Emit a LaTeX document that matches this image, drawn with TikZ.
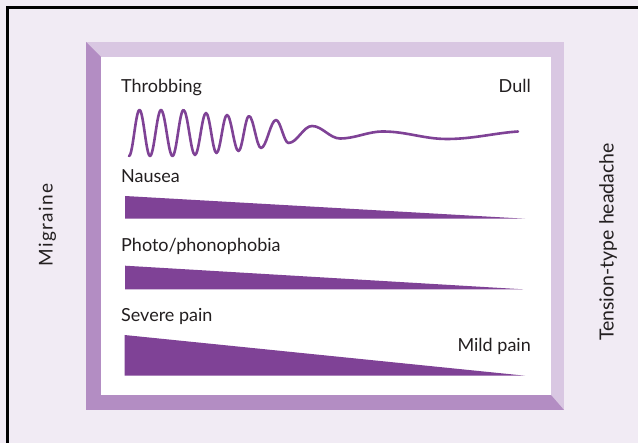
\documentclass[tikz,border=0pt]{standalone}
\usepackage{fontspec}
\setmainfont{Lato}
\newfontfamily\migfont[LetterSpace=8]{Lato}
\definecolor{bgc}{RGB}{241,235,244}
\definecolor{lightband}{RGB}{217,199,226}
\definecolor{darkband}{RGB}{179,141,195}
\definecolor{purp}{RGB}{127,66,150}
\definecolor{txt}{RGB}{35,31,32}
\tikzset{
  lbl/.style={inner sep=0pt, text=txt, font=\fontsize{18}{21}\selectfont},
  vlbl/.style={inner sep=0pt, text=txt, rotate=90, font=\fontsize{19.5}{22}\selectfont},
  wedge/.style={fill=purp, draw=none},
  wave/.style={draw=purp, line width=2.6pt, line cap=round, line join=round}
}
\begin{document}
\begin{tikzpicture}[x=1pt,y=-1pt]
\useasboundingbox (0,0) rectangle (638,443);
\fill[bgc] (0,0) rectangle (638,443);
\draw[black, line width=2.6pt] (7.5,443) -- (7.5,7.5) -- (638,7.5);
% bevelled frame
\fill[lightband] (86,42) rectangle (564,410);
\fill[darkband] (86,42) -- (101,57) -- (101,395) -- (551,395) -- (564,410) -- (86,410) -- cycle;
\fill[white] (101,57) rectangle (551,395);
% labels
\node[lbl, anchor=base west] (throb) at (121,93) {Throbbing};
\node[lbl, anchor=base east] (dull) at (531,93) {Dull};
\node[lbl, anchor=base west] (nausea) at (121,183) {Nausea};
\node[lbl, anchor=base west] (photo) at (121,252) {Photo/phonophobia};
\node[lbl, anchor=base west] (severe) at (121,322) {Severe pain};
\node[lbl, anchor=base east] (mild) at (531,352) {Mild pain};
\node[vlbl, font=\migfont\fontsize{19}{22}\selectfont] (migraine) at (47.5,225) {Migraine};
\node[vlbl] (tth) at (608,242) {Tension-type headache};
% wave
\draw[wave] (129,156)
 .. controls (132.82,156) and (135.68,110) .. (139.5,110)
 .. controls (143.32,110) and (146.18,156) .. (150,156)
 .. controls (154.0,156) and (157.0,110) .. (161,110)
 .. controls (165.19,110) and (168.31,156) .. (172.5,156)
 .. controls (176.5,156) and (179.5,110) .. (183.5,110)
 .. controls (187.69,110) and (190.81,155) .. (195,155)
 .. controls (199,155) and (202,113) .. (206,113)
 .. controls (209.82,113) and (212.68,153) .. (216.5,153)
 .. controls (220.32,153) and (223.18,115) .. (227,115)
 .. controls (231.19,115) and (234.31,151) .. (238.5,151)
 .. controls (242.32,151) and (245.18,116) .. (249,116)
 .. controls (253.37,116) and (256.63,148) .. (261,148)
 .. controls (266.46,148) and (270.54,120) .. (276,120)
 .. controls (280.55,120) and (283.95,143) .. (288.5,143)
 .. controls (297.05,143) and (303.45,126) .. (312,126)
 .. controls (322.19,126) and (329.81,138.5) .. (340,138.5)
 .. controls (355.65,138.5) and (367.35,131.5) .. (383,131.5)
 .. controls (406.3,131.5) and (423.7,139) .. (447,139)
 .. controls (472.8,139) and (495,133) .. (518,131.5);
% wedges
\fill[wedge] (125,196) -- (525,218.7) -- (125,218.7) -- cycle;
\fill[wedge] (125,265.7) -- (523,289.3) -- (125,289.3) -- cycle;
\fill[wedge] (124.5,335) -- (525,375.7) -- (124.5,375.7) -- cycle;
\end{tikzpicture}
\end{document}
